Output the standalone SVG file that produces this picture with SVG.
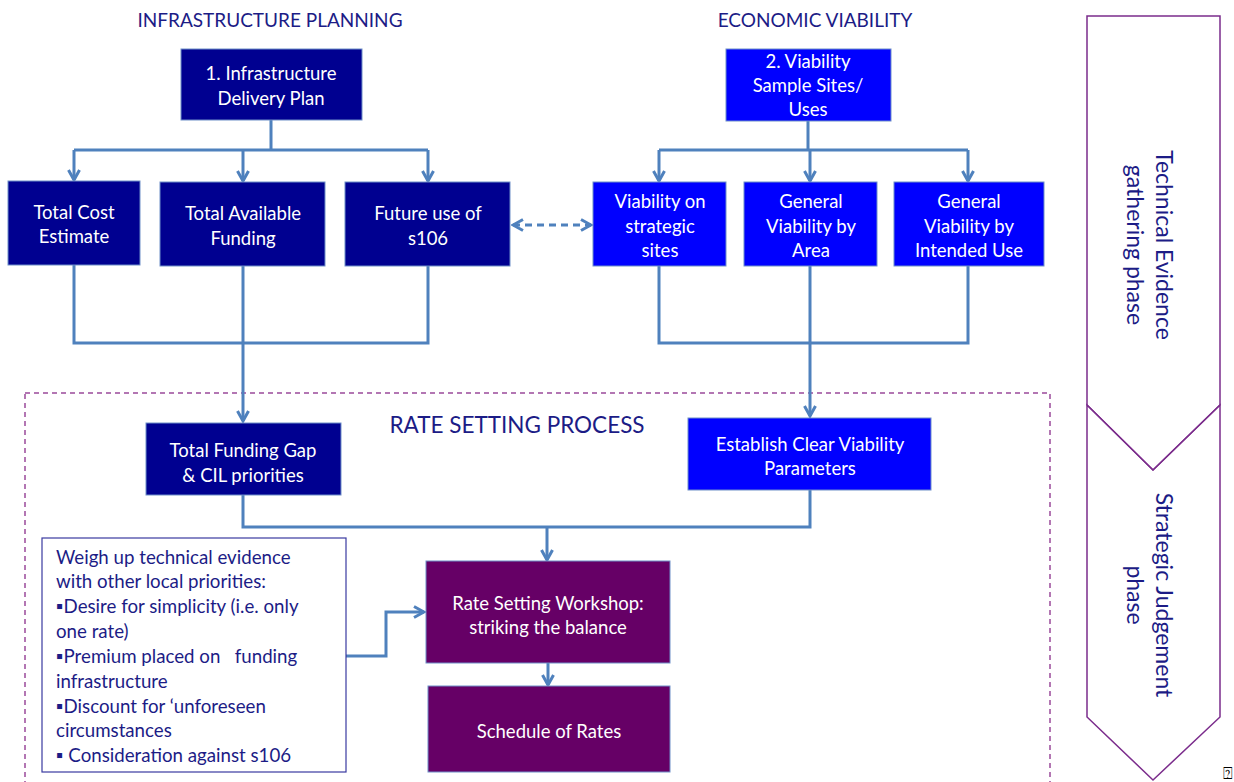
<svg xmlns="http://www.w3.org/2000/svg" width="1234" height="782" viewBox="0 0 1234 782">
<style>
text{font-family:Lato,"Liberation Sans",sans-serif;}
.t{fill:#ffffff;font-size:18.5px;text-anchor:middle;}
.h{fill:#1c1c86;font-size:19px;text-anchor:middle;}
.navy{fill:#000090;stroke:#6f8fc8;stroke-width:1;}
.blue{fill:#0000ff;stroke:#6f8fc8;stroke-width:1;}
.purp{fill:#660066;stroke:#6f8fc8;stroke-width:1;}
.c{fill:none;stroke:#4f81bd;stroke-width:3;}
.l{fill:#1c1c86;font-size:18.7px;}
.ph{fill:#1c1c86;font-size:23px;text-anchor:middle;}
</style>
<defs>
<marker id="ah" viewBox="0 0 14 14" refX="12" refY="7" markerWidth="14" markerHeight="14" orient="auto-start-reverse" markerUnits="userSpaceOnUse">
<path d="M2,1.5 L12,7 L2,12.5" fill="none" stroke="#4f81bd" stroke-width="3"/>
</marker>
</defs>
<rect width="1234" height="782" fill="#ffffff"/>

<g id="titles">
<text class="h" x="270" y="27">INFRASTRUCTURE PLANNING</text>
<text class="h" x="815" y="27">ECONOMIC VIABILITY</text>
</g>

<g id="rate-setting-process">
<rect x="25" y="393" width="1025" height="400" fill="none" stroke="#9a4a9a" stroke-width="1.5" stroke-dasharray="5,4"/>
<text x="517" y="433" fill="#1c1c86" font-size="22.5" text-anchor="middle">RATE SETTING PROCESS</text>
</g>

<g id="connectors">
<path class="c" d="M271,120 V150 M74,150 H428"/>
<path class="c" d="M74,150 V180" marker-end="url(#ah)"/>
<path class="c" d="M243,150 V181" marker-end="url(#ah)"/>
<path class="c" d="M428,150 V181" marker-end="url(#ah)"/>
<path class="c" d="M808,121 V150 M659,150 H968"/>
<path class="c" d="M659,150 V181" marker-end="url(#ah)"/>
<path class="c" d="M810,150 V181" marker-end="url(#ah)"/>
<path class="c" d="M968,150 V181" marker-end="url(#ah)"/>
<path class="c" d="M513,225 H591" stroke-dasharray="7,5" marker-start="url(#ah)" marker-end="url(#ah)"/>
<path class="c" d="M74,265 V343 H428 V266"/>
<path class="c" d="M243,266 V421" marker-end="url(#ah)"/>
<path class="c" d="M659,266 V343 H968 V266"/>
<path class="c" d="M810,266 V416" marker-end="url(#ah)"/>
<path class="c" d="M243,495 V527 H810 V490"/>
<path class="c" d="M547,527 V560" marker-end="url(#ah)"/>
<path class="c" d="M548,663 V685" marker-end="url(#ah)"/>
<path class="c" d="M346,656 H386 V612 H424" marker-end="url(#ah)"/>
</g>

<g id="infrastructure-delivery-plan">
<rect class="navy" x="181" y="49" width="181" height="71"/>
<text class="t" x="271" y="80">1. Infrastructure</text>
<text class="t" x="271" y="105">Delivery Plan</text>
</g>
<g id="viability-sample-sites">
<rect class="blue" x="726" y="49" width="165" height="72"/>
<text class="t" x="808" y="68">2. Viability</text>
<text class="t" x="808" y="92">Sample Sites/</text>
<text class="t" x="808" y="116">Uses</text>
</g>
<g id="total-cost-estimate">
<rect class="navy" x="8" y="181" width="132" height="84"/>
<text class="t" x="74" y="219">Total Cost</text>
<text class="t" x="74" y="243">Estimate</text>
</g>
<g id="total-available-funding">
<rect class="navy" x="160" y="182" width="165" height="84"/>
<text class="t" x="243" y="220">Total Available</text>
<text class="t" x="243" y="245">Funding</text>
</g>
<g id="future-use-s106">
<rect class="navy" x="345" y="182" width="165" height="84"/>
<text class="t" x="428" y="220">Future use of</text>
<text class="t" x="428" y="245">s106</text>
</g>
<g id="viability-strategic-sites">
<rect class="blue" x="593" y="182" width="133" height="84"/>
<text class="t" x="660" y="208">Viability on</text>
<text class="t" x="660" y="233">strategic</text>
<text class="t" x="660" y="257">sites</text>
</g>
<g id="general-viability-area">
<rect class="blue" x="744" y="182" width="133" height="84"/>
<text class="t" x="811" y="208">General</text>
<text class="t" x="811" y="233">Viability by</text>
<text class="t" x="811" y="257">Area</text>
</g>
<g id="general-viability-use">
<rect class="blue" x="894" y="182" width="150" height="84"/>
<text class="t" x="969" y="208">General</text>
<text class="t" x="969" y="233">Viability by</text>
<text class="t" x="969" y="257">Intended Use</text>
</g>
<g id="total-funding-gap">
<rect class="navy" x="146" y="423" width="195" height="72"/>
<text class="t" x="243" y="457">Total Funding Gap</text>
<text class="t" x="243" y="482">&amp; CIL priorities</text>
</g>
<g id="clear-viability-parameters">
<rect class="blue" x="688" y="418" width="243" height="72"/>
<text class="t" x="810" y="451">Establish Clear Viability</text>
<text class="t" x="810" y="475">Parameters</text>
</g>
<g id="local-priorities">
<rect x="42" y="538" width="304" height="234" fill="#ffffff" stroke="#3a3aa0" stroke-width="1.2"/>
<text class="l" x="56" y="564">Weigh up technical evidence</text>
<text class="l" x="56" y="588">with other local priorities:</text>
<text class="l" x="56" y="613">▪Desire for simplicity (i.e. only</text>
<text class="l" x="56" y="638">one rate)</text>
<text class="l" x="56" y="663">▪Premium placed on &#160;&#160;funding</text>
<text class="l" x="56" y="688">infrastructure</text>
<text class="l" x="56" y="713">▪Discount for ‘unforeseen</text>
<text class="l" x="56" y="737">circumstances</text>
<text class="l" x="56" y="762">▪ Consideration against s106</text>
</g>
<g id="rate-setting-workshop">
<rect class="purp" x="426" y="561" width="244" height="102"/>
<text class="t" x="548" y="610">Rate Setting Workshop:</text>
<text class="t" x="548" y="634">striking the balance</text>
</g>
<g id="schedule-of-rates">
<rect class="purp" x="428" y="686" width="242" height="86"/>
<text class="t" x="549" y="738">Schedule of Rates</text>
</g>

<g id="phase-technical">
<polygon points="1087,16 1220,16 1220,405 1153,470 1087,405" fill="none" stroke="#7b2c8c" stroke-width="1.5"/>
<text class="ph" transform="translate(1156,245) rotate(90)">Technical Evidence</text>
<text class="ph" transform="translate(1127,245) rotate(90)">gathering phase</text>
</g>
<g id="phase-strategic">
<polygon points="1087,405 1153,470 1220,405 1220,717 1153,780 1087,717" fill="none" stroke="#7b2c8c" stroke-width="1.5"/>
<text class="ph" transform="translate(1156,595) rotate(90)">Strategic Judgement</text>
<text class="ph" transform="translate(1127,595) rotate(90)">phase</text>
</g>
<text x="1228" y="779" font-family="DejaVu Sans Mono,DejaVu Sans,monospace" font-size="16" text-anchor="middle" fill="#000000">⍰</text>
</svg>
